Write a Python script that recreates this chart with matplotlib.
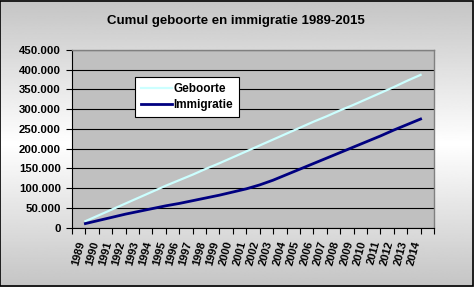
import numpy as np
import matplotlib
matplotlib.use('Agg')
import matplotlib.pyplot as plt
from matplotlib.patches import Rectangle

# Data
years = [str(y) for y in range(1989, 2015)]
geboorte = [16000, 31000, 46000, 61000, 76000, 91000, 106000, 120000, 134000,
            149000, 163000, 178000, 193000, 208000, 223000, 238000, 253000,
            268000, 282000, 297000, 311000, 326000, 341000, 356000, 372000, 387000]
immigratie = [10000, 18000, 26000, 34000, 41000, 48000, 55000, 61000, 68000,
              75000, 82000, 90000, 98000, 108000, 120000, 134000, 148000,
              162000, 176000, 190000, 204000, 218000, 232000, 247000, 261000, 275000]
y_ticks = [0, 50000, 100000, 150000, 200000, 250000, 300000, 350000, 400000, 450000]
y_labels = ['0', '50.000', '100.000', '150.000', '200.000', '250.000',
            '300.000', '350.000', '400.000', '450.000']

plt.rcParams['font.family'] = ['Liberation Sans', 'DejaVu Sans']

fig = plt.figure(figsize=(4.74, 2.87), dpi=100)

# Background gradient (grey at top/bottom, white in the middle)
bg = fig.add_axes([0, 0, 1, 1])
t = np.linspace(0, 1, 300)
shade = 0.77 + 0.23 * (1 - np.abs(t - 0.5) * 2)
bg.imshow(shade[:, None], cmap='gray', vmin=0, vmax=1, aspect='auto',
          extent=[0, 1, 0, 1])
bg.add_patch(Rectangle((0.001, 0.002), 0.997, 0.995, fill=False,
                       edgecolor='black', lw=1.2, transform=bg.transAxes))
bg.set_xlim(0, 1)
bg.set_ylim(0, 1)
bg.axis('off')

ax = fig.add_axes([0.1519, 0.2073, 0.7637, 0.6185])
ax.set_facecolor('#c0c0c0')

x = np.arange(1, len(years) + 1)
ax.plot(x, geboorte, color='#ccffff', lw=1.6, label='Geboorte', zorder=3)
ax.plot(x, immigratie, color='#000080', lw=2.0, label='Immigratie', zorder=3)

ax.set_xlim(0, len(years) + 1)
ax.set_ylim(0, 450000)

ax.set_yticks(y_ticks)
ax.set_yticklabels(y_labels, fontsize=8.2, fontweight='bold')
ax.yaxis.grid(True, color='black', lw=0.8)
ax.set_axisbelow(True)
ax.tick_params(axis='y', direction='out', length=4, width=0.8, pad=4)

ax.set_xticks(np.arange(0, len(years) + 2))
ax.set_xticklabels([])
ax.set_xticks(np.arange(len(years)) + 0.5, minor=True)
ax.set_xticklabels(years, minor=True, rotation=75, fontsize=8,
                   fontweight='bold', ha='center', va='top')
ax.tick_params(axis='x', which='major', direction='out', length=4, width=0.8)
ax.tick_params(axis='x', which='minor', length=0, pad=9)

for side in ['top', 'right']:
    ax.spines[side].set_color('#808080')
    ax.spines[side].set_linewidth(1.0)
for side in ['left', 'bottom']:
    ax.spines[side].set_color('black')
    ax.spines[side].set_linewidth(0.8)

leg = ax.legend(loc='upper left', bbox_to_anchor=(0.174, 0.848),
                prop={'weight': 'bold', 'size': 8.5},
                frameon=True, fancybox=False, edgecolor='black',
                framealpha=1, handlelength=2.6, handletextpad=0.15,
                borderpad=0.5, labelspacing=0.35, borderaxespad=0)
leg.get_frame().set_linewidth(0.8)

fig.text(0.498, 0.928, 'Cumul geboorte en immigratie 1989-2015', ha='center',
         va='center', fontsize=9.5, fontweight='bold')

fig.savefig('out.png', dpi=100)
